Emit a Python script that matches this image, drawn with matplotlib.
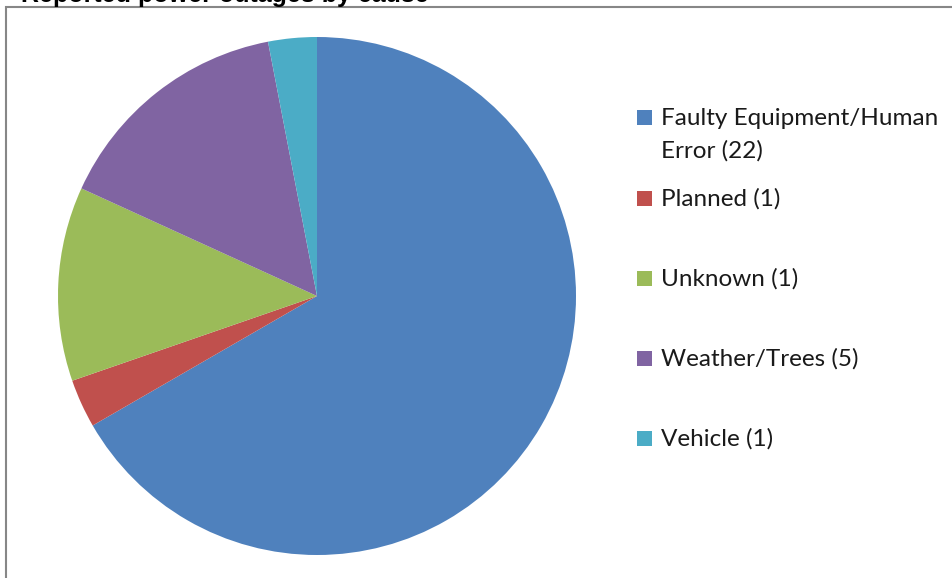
import matplotlib.pyplot as plt
from matplotlib.patches import Rectangle

# data
causes = ["Faulty Equipment/Human\nError (22)", "Planned (1)", "Unknown (1)",
          "Weather/Trees (5)", "Vehicle (1)"]
counts = [22, 1, 4, 5, 1]
colors = ["#4F81BD", "#C0504D", "#9BBB59", "#8064A2", "#4BACC6"]
title = "Reported power outages by cause"


def main():
    W, H = 953, 578
    fig = plt.figure(figsize=(W / 100, H / 100), dpi=100)

    # chart frame
    fig.patches.append(Rectangle((6 / W, -0.1), 1.2, (H - 7) / H + 0.1,
                                 transform=fig.transFigure, fill=False,
                                 edgecolor="#878787", linewidth=1.5))

    # title cut off at the top
    fig.text(21 / W, 1 - 2 / H, title, fontsize=18, fontweight="bold",
             family="Liberation Sans", va="baseline", ha="left")

    # pie: center (317,296), radius 259 px
    r = 259
    ax = fig.add_axes([(317 - r) / W, (H - 296 - r) / H, 2 * r / W, 2 * r / H])
    ax.pie(counts, colors=colors, startangle=90, counterclock=False,
           wedgeprops=dict(linewidth=0))
    ax.set_xlim(-1, 1)
    ax.set_ylim(-1, 1)
    ax.set_aspect("auto")

    # legend
    ys = [118, 199, 279, 359, 439]
    for lab, c, y in zip(causes, colors, ys):
        fig.patches.append(Rectangle((637 / W, 1 - (y + 7) / H), 15 / W, 15 / H,
                                     transform=fig.transFigure, facecolor=c,
                                     edgecolor="none"))
        for k, line in enumerate(lab.split("\n")):
            fig.text(661 / W, 1 - (y + 7 + 33 * k) / H, line, fontsize=17.5,
                     family="Lato", va="baseline", ha="left", color="#1a1a1a")

    fig.savefig("out.png", dpi=100)


if __name__ == "__main__":
    main()
